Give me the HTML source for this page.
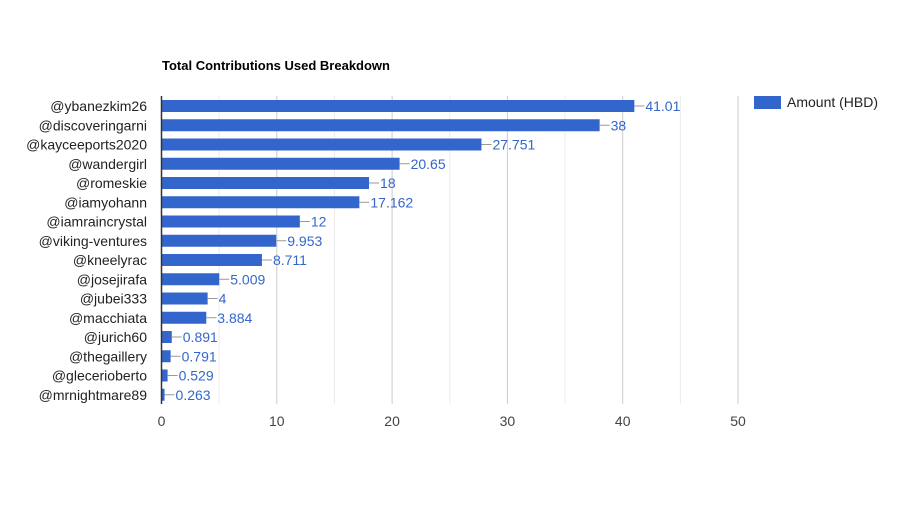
<!DOCTYPE html>
<html><head><meta charset="utf-8"><style>
body{margin:0;background:#fff;font-family:"Liberation Sans",Arial,sans-serif}
</style></head><body>
<svg id="chart" width="900" height="500" xmlns="http://www.w3.org/2000/svg">
<rect width="900" height="500" fill="#fff"/>
<text x="162" y="70" font-size="13" font-weight="bold" fill="#000">Total Contributions Used Breakdown</text>
<g id="grid"></g><g id="bars"></g><g id="labels"></g>
<rect x="754" y="96" width="27" height="13" fill="#3366cc"/>
<text x="787" y="107" font-size="14" fill="#222">Amount (HBD)</text>
</svg>
<script>
const categories=["@ybanezkim26","@discoveringarni","@kayceeports2020","@wandergirl","@romeskie","@iamyohann","@iamraincrystal","@viking-ventures","@kneelyrac","@josejirafa","@jubei333","@macchiata","@jurich60","@thegaillery","@glecerioberto","@mrnightmare89"];
const values=[41.01,38,27.751,20.65,18,17.162,12,9.953,8.711,5.009,4,3.884,0.891,0.791,0.529,0.263];
const valueLabels=["41.01","38","27.751","20.65","18","17.162","12","9.953","8.711","5.009","4","3.884","0.891","0.791","0.529","0.263"];
const ticks=[0,10,20,30,40,50];
const minorTicks=[5,15,25,35,45];
const NS="http://www.w3.org/2000/svg";
const x0=161.5,scale=11.53,top0=96,band=19.25,plotBottom=404;
function xs(v){return x0+v*scale;}
function ys(i){return top0+i*band;}
function mk(t,a,p){const e=document.createElementNS(NS,t);for(const k in a)e.setAttribute(k,a[k]);p.appendChild(e);return e;}
const grid=document.getElementById('grid'),bars=document.getElementById('bars'),labels=document.getElementById('labels');
minorTicks.forEach(v=>{const l=mk('line',{x1:xs(v),x2:xs(v),y1:top0,y2:plotBottom,stroke:'#ebebeb','stroke-width':1},grid);

});
ticks.forEach(v=>{if(v>0){const l=mk('line',{x1:xs(v),x2:xs(v),y1:top0,y2:plotBottom,stroke:'#cccccc','stroke-width':1},grid);

}
const t=mk('text',{x:xs(v),y:426,'font-size':14,fill:'#444','text-anchor':'middle'},labels);t.textContent=v;

});
categories.forEach((c,i)=>{const y=ys(i);const v=values[i];
const r=mk('rect',{x:x0,y:y+4,width:Math.max(v*scale,1),height:12,fill:'#3366cc'},bars);


const ln=mk('line',{x1:xs(v),x2:xs(v)+10,y1:y+10,y2:y+10,stroke:'#999','stroke-width':1},labels);


const t=mk('text',{x:xs(v)+11,y:y+15,'font-size':14,fill:'#3366cc'},labels);t.textContent=valueLabels[i];


const yl=mk('text',{x:147,y:y+15,'font-size':14,fill:'#222','text-anchor':'end'},labels);yl.textContent=c;

});
const ax=mk('line',{x1:x0,x2:x0,y1:top0,y2:plotBottom,stroke:'#333','stroke-width':1.5},labels);


</script>
</body></html>
